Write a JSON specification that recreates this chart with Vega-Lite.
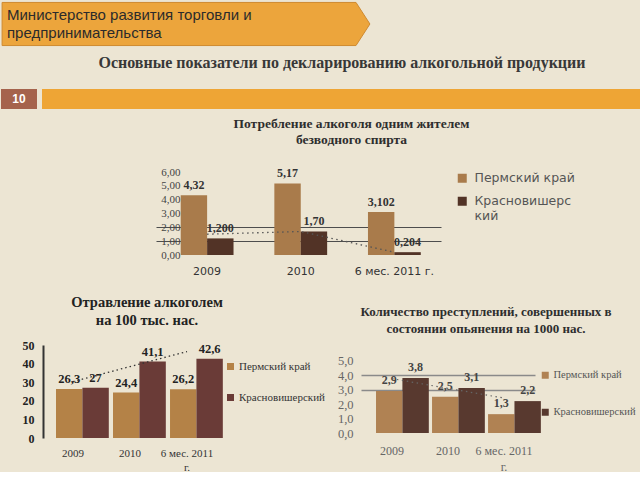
{
  "$schema": "https://vega.github.io/schema/vega-lite/v6.json",
  "background": "#ece5d3",
  "padding": 0,
  "spacing": 0,
  "bounds": "flush",
  "resolve": {"scale": {"x": "independent", "y": "independent", "color": "independent"}, "legend": {"color": "independent"}},
  "config": {"view": {"stroke": null}},
  "datasets": {
    "top": [
      {"period": "2009", "region": "Пермский край", "value": 4.32, "label": "4,32"},
      {"period": "2009", "region": "Красновишерский", "value": 1.2, "label": "1,200"},
      {"period": "2010", "region": "Пермский край", "value": 5.17, "label": "5,17"},
      {"period": "2010", "region": "Красновишерский", "value": 1.7, "label": "1,70"},
      {"period": "6 мес. 2011 г.", "region": "Пермский край", "value": 3.102, "label": "3,102"},
      {"period": "6 мес. 2011 г.", "region": "Красновишерский", "value": 0.204, "label": "0,204"}
    ],
    "topTrend": [
      {"period": "2009", "value": 1.5},
      {"period": "2010", "value": 1.7},
      {"period": "6 мес. 2011 г.", "value": 0.2}
    ],
    "left": [
      {"period": "2009", "region": "Пермский край", "value": 26.3, "label": "26,3"},
      {"period": "2009", "region": "Красновишерский", "value": 27, "label": "27"},
      {"period": "2010", "region": "Пермский край", "value": 24.4, "label": "24,4"},
      {"period": "2010", "region": "Красновишерский", "value": 41.1, "label": "41,1"},
      {"period": "6 мес. 2011 г.", "region": "Пермский край", "value": 26.2, "label": "26,2"},
      {"period": "6 мес. 2011 г.", "region": "Красновишерский", "value": 42.6, "label": "42,6"}
    ],
    "leftTrend": [
      {"period": "2009", "value": 30.3},
      {"period": "2010", "value": 38.4},
      {"period": "6 мес. 2011 г.", "value": 46.5}
    ],
    "right": [
      {"period": "2009", "region": "Пермский край", "value": 2.9, "label": "2,9"},
      {"period": "2009", "region": "Красновишерский", "value": 3.8, "label": "3,8"},
      {"period": "2010", "region": "Пермский край", "value": 2.5, "label": "2,5"},
      {"period": "2010", "region": "Красновишерский", "value": 3.1, "label": "3,1"},
      {"period": "6 мес. 2011 г.", "region": "Пермский край", "value": 1.3, "label": "1,3"},
      {"period": "6 мес. 2011 г.", "region": "Красновишерский", "value": 2.2, "label": "2,2"}
    ],
    "rightTrend": [
      {"period": "2009", "value": 3.75},
      {"period": "2010", "value": 3.08},
      {"period": "6 мес. 2011 г.", "value": 2.41}
    ]
  },
  "vconcat": [
    {
      "width": 370, "height": 44,
      "data": {"values": [{"line": 1, "text": "Министерство развития торговли и"}, {"line": 2, "text": "предпринимательства"}]},
      "layer": [
        {
          "transform": [{"filter": "datum.line == 1"}],
          "mark": {"type": "point", "shape": "M -8.36 -0.98 L 7.727 -0.98 L 8.36 0 L 7.727 0.98 L -8.36 0.98 Z", "size": 1936, "filled": true, "fill": "#eca53c", "stroke": "#cf8a30", "strokeWidth": 1, "opacity": 1},
          "encoding": {}
        },
        {
          "mark": {"type": "text", "align": "left", "baseline": "middle", "dx": 6, "font": "Liberation Sans", "fontSize": 15, "color": "#2b2b2b"},
          "encoding": {
            "x": {"datum": 0, "type": "quantitative", "scale": {"domain": [0, 1]}, "axis": null},
            "y": {"field": "line", "type": "ordinal", "scale": {"type": "point", "padding": 0.66}, "axis": null},
            "text": {"field": "text"}
          }
        }
      ]
    },
    {
      "width": 640, "height": 43,
      "data": {"values": [{"t": "Основные показатели по декларированию алкогольной продукции"}]},
      "mark": {"type": "text", "font": "Liberation Serif", "fontSize": 16, "fontWeight": "bold", "color": "#383838", "dy": -5, "dx": 21},
      "encoding": {"text": {"field": "t"}}
    },
    {
      "hconcat": [
        {
          "width": 36, "height": 20,
          "data": {"values": [{"t": "10"}]},
          "layer": [
            {"mark": {"type": "rect", "color": "#a5634c"}, "encoding": {}},
            {"mark": {"type": "text", "color": "#ffffff", "fontWeight": "bold", "fontSize": 12, "font": "Liberation Sans"}, "encoding": {"text": {"field": "t"}}}
          ]
        },
        {
          "width": 599, "height": 20,
          "data": {"values": [{"t": ""}]},
          "mark": {"type": "rect", "color": "#eea535"},
          "encoding": {}
        }
      ],
      "spacing": 5,
      "bounds": "flush"
    },
    {
      "width": 1, "height": 83,
      "data": {"values": [{"t": ""}]},
      "mark": {"type": "rect", "opacity": 0},
      "encoding": {}
    },
    {
      "hconcat": [
        {
          "width": 155, "height": 1,
          "data": {"values": [{"t": ""}]},
          "mark": {"type": "rect", "opacity": 0},
          "encoding": {}
        },
        {
          "width": 285, "height": 83,
          "title": {"text": ["Потребление алкоголя одним жителем", "безводного спирта"], "font": "Liberation Serif", "fontSize": 13.5, "fontWeight": "bold", "color": "#2e2e2e", "lineHeight": 16, "anchor": "middle", "frame": "group", "dx": 53, "offset": 20},
          "data": {"name": "top"},
          "encoding": {
            "x": {"field": "period", "type": "nominal", "sort": null, "scale": {"domain": ["2009", "2010", "6 мес. 2011 г."], "paddingInner": 0.436, "paddingOuter": 0.24, "align": 0.55}, "axis": {"title": null, "labelAngle": 0, "domain": false, "ticks": false, "labelPadding": 10, "labelFont": "DejaVu Sans", "labelFontSize": 11, "labelColor": "#333333"}},
            "y": {"field": "value", "type": "quantitative", "scale": {"domain": [0, 6], "nice": false}, "axis": {"title": null, "values": [0, 1, 2, 3, 4, 5, 6], "labelExpr": "replace(format(datum.value, '.2f'), '.', ',')", "domain": false, "ticks": false, "labelPadding": -24, "labelFont": "Liberation Serif", "labelFontSize": 11, "labelColor": "#444444", "grid": true, "gridColor": "#4d4d4d", "gridWidth": 1, "gridOpacity": {"condition": {"test": "datum.value == 1 || datum.value == 2", "value": 1}, "value": 0}}}
          },
          "layer": [
            {
              "mark": {"type": "bar"},
              "encoding": {
                "xOffset": {"field": "region", "type": "nominal", "sort": null, "scale": {"domain": ["Пермский край", "Красновишерский"]}},
                "color": {"field": "region", "type": "nominal", "scale": {"domain": ["Пермский край", "Красновишерский"], "range": ["#a97b4b", "#523326"]}, "legend": {"title": null, "orient": "right", "offset": 15, "padding": 0, "symbolType": "square", "symbolSize": 81, "symbolStrokeWidth": 0, "labelFont": "DejaVu Sans", "labelFontSize": 12.5, "labelColor": "#555555", "labelOffset": 6, "rowPadding": 10, "labelLimit": 200, "labelExpr": "datum.label == 'Красновишерский' ? ['Красновишерс', 'кий'] : datum.label"}}
              }
            },
            {
              "mark": {"type": "text", "baseline": "bottom", "dy": -3, "font": "Liberation Serif", "fontSize": 12, "fontWeight": "bold", "color": "#333333"},
              "encoding": {
                "xOffset": {"field": "region", "type": "nominal", "sort": null, "scale": {"domain": ["Пермский край", "Красновишерский"]}},
                "text": {"field": "label"}
              }
            },
            {
              "data": {"name": "topTrend"},
              "mark": {"type": "line", "strokeDash": [1.5, 3.5], "color": "#555555", "strokeWidth": 1.3},
              "encoding": {}
            }
          ]
        }
      ],
      "spacing": 0,
      "bounds": "flush",
      "resolve": {"scale": {"x": "independent", "y": "independent", "color": "independent"}, "legend": {"color": "independent"}}
    },
    {
      "width": 1, "height": 173,
      "data": {"values": [{"t": ""}]},
      "mark": {"type": "rect", "opacity": 0},
      "encoding": {}
    },
    {
      "hconcat": [
        {
          "width": 42, "height": 1,
          "data": {"values": [{"t": ""}]},
          "mark": {"type": "rect", "opacity": 0},
          "encoding": {}
        },
        {
          "width": 174, "height": 93,
          "title": {"text": ["Отравление алкоголем", "на 100 тыс. нас."], "font": "Liberation Serif", "fontSize": 14.5, "fontWeight": "bold", "color": "#222222", "lineHeight": 18, "anchor": "middle", "frame": "group", "dx": 17, "offset": 11},
          "data": {"name": "left"},
          "encoding": {
            "x": {"field": "period", "type": "nominal", "sort": null, "scale": {"domain": ["2009", "2010", "6 мес. 2011 г."], "paddingInner": 0.404, "paddingOuter": 0.228}, "axis": {"title": null, "labelAngle": 0, "domain": false, "ticks": false, "labelPadding": 9, "labelFont": "Liberation Serif", "labelFontSize": 11, "labelColor": "#333333", "labelLineHeight": 14, "labelExpr": "datum.label == '6 мес. 2011 г.' ? ['6 мес. 2011', 'г.'] : datum.label"}},
            "y": {"field": "value", "type": "quantitative", "scale": {"domain": [0, 50], "nice": false}, "axis": {"title": null, "values": [0, 10, 20, 30, 40, 50], "domain": true, "domainColor": "#333333", "domainWidth": 2, "ticks": false, "grid": false, "labelPadding": 9, "labelFont": "Liberation Serif", "labelFontSize": 12, "labelFontWeight": "bold", "labelColor": "#222222"}}
          },
          "layer": [
            {
              "mark": {"type": "bar"},
              "encoding": {
                "xOffset": {"field": "region", "type": "nominal", "sort": null, "scale": {"domain": ["Пермский край", "Красновишерский"]}},
                "color": {"field": "region", "type": "nominal", "scale": {"domain": ["Пермский край", "Красновишерский"], "range": ["#b48247", "#6a3b37"]}, "legend": {"title": null, "orient": "right", "offset": -8, "padding": 16, "symbolType": "square", "symbolSize": 49, "symbolStrokeWidth": 0, "labelFont": "Liberation Serif", "labelFontSize": 11, "labelColor": "#333333", "labelOffset": 3, "rowPadding": 19, "labelLimit": 200}}
              }
            },
            {
              "mark": {"type": "text", "baseline": "bottom", "dy": -3, "font": "Liberation Serif", "fontSize": 12.5, "fontWeight": "bold", "color": "#222222"},
              "encoding": {
                "xOffset": {"field": "region", "type": "nominal", "sort": null, "scale": {"domain": ["Пермский край", "Красновишерский"]}},
                "text": {"field": "label"}
              }
            },
            {
              "data": {"name": "leftTrend"},
              "mark": {"type": "line", "strokeDash": [1.5, 3], "color": "#333333", "strokeWidth": 1.3},
              "encoding": {}
            }
          ]
        },
        {
          "width": 144, "height": 1,
          "data": {"values": [{"t": ""}]},
          "mark": {"type": "rect", "opacity": 0},
          "encoding": {}
        },
        {
          "width": 174, "height": 88,
          "title": {"text": ["Количество преступлений, совершенных в", "состоянии опьянения на 1000 нас."], "font": "Liberation Serif", "fontSize": 13, "fontWeight": "bold", "color": "#2e2e2e", "lineHeight": 17, "anchor": "middle", "frame": "group", "dx": 38, "offset": 9},
          "data": {"name": "right"},
          "encoding": {
            "x": {"field": "period", "type": "nominal", "sort": null, "scale": {"domain": ["2009", "2010", "6 мес. 2011 г."], "paddingInner": 0.43, "paddingOuter": 0.268}, "axis": {"title": null, "labelAngle": 0, "domain": false, "ticks": false, "labelPadding": 12, "labelFont": "Liberation Serif", "labelFontSize": 12, "labelColor": "#666666", "labelLineHeight": 16, "labelExpr": "datum.label == '6 мес. 2011 г.' ? ['6 мес. 2011', 'г.'] : datum.label"}},
            "y": {"field": "value", "type": "quantitative", "scale": {"domain": [0, 6.07], "nice": false}, "axis": {"title": null, "values": [0, 1, 2, 3, 4, 5], "labelExpr": "replace(format(datum.value, '.1f'), '.', ',')", "domain": false, "ticks": false, "labelPadding": 8, "labelFont": "Liberation Serif", "labelFontSize": 12.5, "labelColor": "#666666", "grid": true, "gridColor": "#8a8a8a", "gridWidth": 1.5, "gridOpacity": {"condition": {"test": "datum.value == 3 || datum.value == 4", "value": 1}, "value": 0}}}
          },
          "layer": [
            {
              "mark": {"type": "bar"},
              "encoding": {
                "xOffset": {"field": "region", "type": "nominal", "sort": null, "scale": {"domain": ["Пермский край", "Красновишерский"]}},
                "color": {"field": "region", "type": "nominal", "scale": {"domain": ["Пермский край", "Красновишерский"], "range": ["#b08253", "#58392f"]}, "legend": {"title": null, "orient": "right", "offset": -20, "padding": 25, "symbolType": "square", "symbolSize": 49, "symbolStrokeWidth": 0, "labelFont": "Liberation Serif", "labelFontSize": 10.5, "labelColor": "#555555", "labelOffset": 3, "rowPadding": 26, "labelLimit": 200}}
              }
            },
            {
              "mark": {"type": "text", "baseline": "bottom", "dy": -4, "font": "Liberation Serif", "fontSize": 12, "fontWeight": "bold", "color": "#444444"},
              "encoding": {
                "xOffset": {"field": "region", "type": "nominal", "sort": null, "scale": {"domain": ["Пермский край", "Красновишерский"]}},
                "text": {"field": "label"}
              }
            },
            {
              "data": {"name": "rightTrend"},
              "mark": {"type": "line", "strokeDash": [1.5, 3.5], "color": "#666666", "strokeWidth": 1.2},
              "encoding": {}
            }
          ]
        }
      ],
      "spacing": 0,
      "bounds": "flush",
      "resolve": {"scale": {"x": "independent", "y": "independent", "color": "independent"}, "legend": {"color": "independent"}}
    }
  ]
}
